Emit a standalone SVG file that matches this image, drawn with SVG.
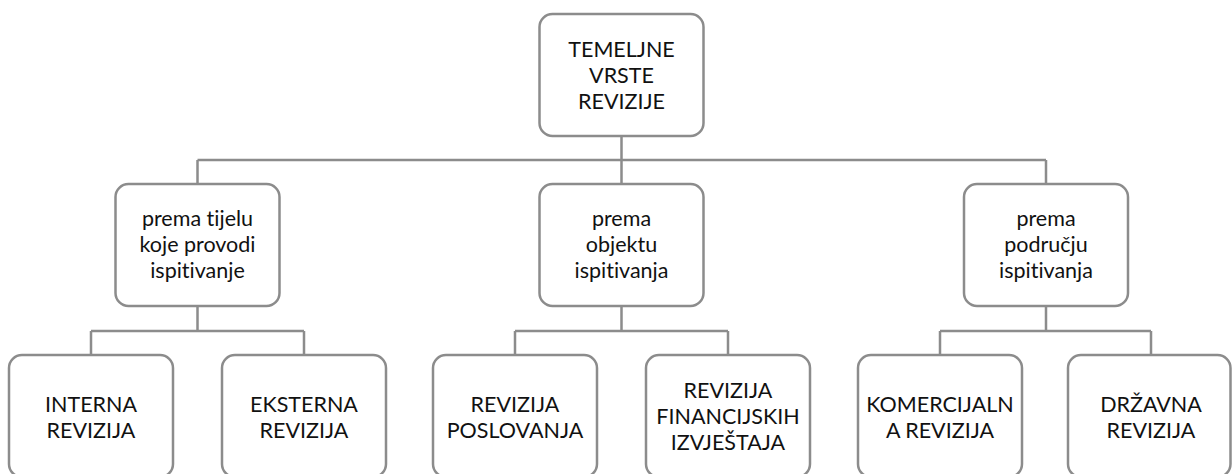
<svg xmlns="http://www.w3.org/2000/svg" width="1232" height="474" viewBox="0 0 1232 474">
<style>
.box{fill:#fff;stroke:#8c8c8c;stroke-width:2.5}
.con{fill:none;stroke:#8c8c8c;stroke-width:2.5}
text{font-family:Lato,"Open Sans",sans-serif;font-size:21.5px;fill:#111;text-anchor:middle;font-variant-ligatures:none;font-feature-settings:"liga" 0,"clig" 0}
</style>
<rect width="1232" height="474" fill="#fff"/>
<g id="connectors">
<path class="con" d="M621.5 136V160M197.5 160H1046M197.5 160V184M621.5 160V184M1046 160V184"/>
<path class="con" d="M197.5 306V331M91 331H304M91 331V355M304 331V355"/>
<path class="con" d="M621.5 306V331M515 331H728M515 331V355M728 331V355"/>
<path class="con" d="M1046 306V331M940 331H1151M940 331V355M1151 331V355"/>
</g>
<g id="n-root"><rect class="box" x="539.5" y="14" width="164" height="122" rx="13"/>
<text x="621.5" y="57">TEMELJNE</text><text x="621.5" y="83">VRSTE</text><text x="621.5" y="109">REVIZIJE</text></g>
<g id="n-tijelo"><rect class="box" x="115.5" y="184" width="164" height="122" rx="13"/>
<text x="197.5" y="226">prema tijelu</text><text x="197.5" y="252">koje provodi</text><text x="197.5" y="278">ispitivanje</text></g>
<g id="n-objekt"><rect class="box" x="539.5" y="184" width="164" height="122" rx="13"/>
<text x="621.5" y="226">prema</text><text x="621.5" y="252">objektu</text><text x="621.5" y="278">ispitivanja</text></g>
<g id="n-podrucje"><rect class="box" x="964" y="184" width="164" height="122" rx="13"/>
<text x="1046" y="226">prema</text><text x="1046" y="252">području</text><text x="1046" y="278">ispitivanja</text></g>
<g id="n-interna"><rect class="box" x="9" y="355" width="164" height="122" rx="13"/>
<text x="91" y="412">INTERNA</text><text x="91" y="438">REVIZIJA</text></g>
<g id="n-eksterna"><rect class="box" x="222" y="355" width="164" height="122" rx="13"/>
<text x="304" y="412">EKSTERNA</text><text x="304" y="438">REVIZIJA</text></g>
<g id="n-poslovanja"><rect class="box" x="433" y="355" width="164" height="122" rx="13"/>
<text x="515" y="412">REVIZIJA</text><text x="515" y="438">POSLOVANJA</text></g>
<g id="n-financijskih"><rect class="box" x="646" y="355" width="164" height="122" rx="13"/>
<text x="728" y="398">REVIZIJA</text><text x="728" y="424">FINANCIJSKIH</text><text x="728" y="450">IZVJEŠTAJA</text></g>
<g id="n-komercijalna"><rect class="box" x="858" y="355" width="164" height="122" rx="13"/>
<text x="940" y="412">KOMERCIJALN</text><text x="940" y="438">A REVIZIJA</text></g>
<g id="n-drzavna"><rect class="box" x="1068" y="355" width="162.5" height="122" rx="13"/>
<text x="1151" y="412">DRŽAVNA</text><text x="1151" y="438">REVIZIJA</text></g>
</svg>
